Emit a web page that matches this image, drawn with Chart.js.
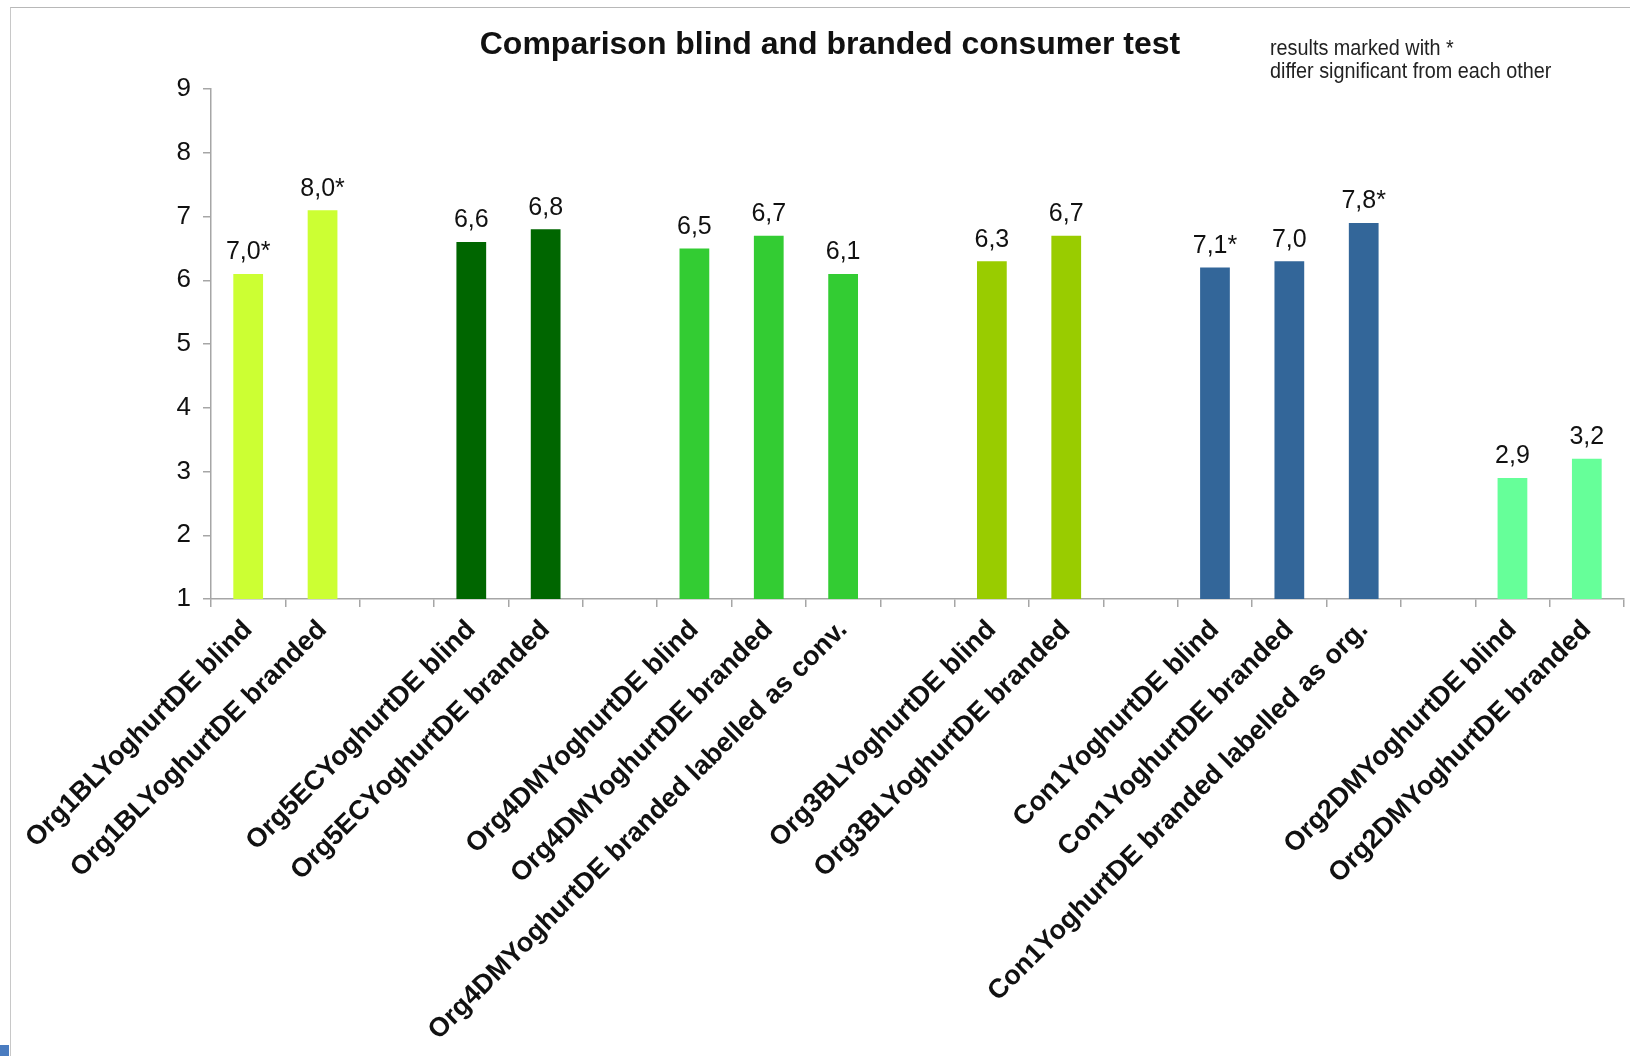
<!DOCTYPE html>
<html>
<head>
<meta charset="utf-8">
<script src="https://cdn.jsdelivr.net/npm/chart.js@4/dist/chart.umd.min.js"></script>
<style>
  html, body { margin: 0; padding: 0; background: #fff; }
  #wrap { position: relative; width: 1630px; height: 1056px; overflow: hidden; }
  #frame { position: absolute; left: 10px; top: 7px; right: -2px; bottom: -2px; border-top: 1px solid #b8b8b8; border-left: 1px solid #c8c8c8; }
  #corner { position: absolute; left: 0; top: 1045px; width: 9px; height: 11px; background: #4a7cc0; }
  canvas { position: absolute; left: 0; top: 0; }
</style>
</head>
<body>
<div id="wrap">
  <div id="frame"></div>
  <div id="corner"></div>
  <canvas id="chart" width="1630" height="1056"></canvas>
</div>
<script>
const titleText = 'Comparison blind and branded consumer test';
const noteLines = ['results marked with *', 'differ significant from each other'];

// empty strings are the gaps between product groups
const categories = [
    'Org1BLYoghurtDE blind', 'Org1BLYoghurtDE branded', '',
    'Org5ECYoghurtDE blind', 'Org5ECYoghurtDE branded', '',
    'Org4DMYoghurtDE blind', 'Org4DMYoghurtDE branded', 'Org4DMYoghurtDE branded labelled as conv.', '',
    'Org3BLYoghurtDE blind', 'Org3BLYoghurtDE branded', '',
    'Con1YoghurtDE blind', 'Con1YoghurtDE branded', 'Con1YoghurtDE branded labelled as org.', '',
    'Org2DMYoghurtDE blind', 'Org2DMYoghurtDE branded'
];
const barValues = [6.1, 7.1, null, 6.6, 6.8, null, 6.5, 6.7, 6.1, null, 6.3, 6.7, null, 6.2, 6.3, 6.9, null, 2.9, 3.2];
const valueLabels = ['7,0*', '8,0*', '', '6,6', '6,8', '', '6,5', '6,7', '6,1', '', '6,3', '6,7', '', '7,1*', '7,0', '7,8*', '', '2,9', '3,2'];
const barColors = [
    '#ccff33', '#ccff33', null,
    '#006600', '#006600', null,
    '#33cc33', '#33cc33', '#33cc33', null,
    '#99cc00', '#99cc00', null,
    '#336699', '#336699', '#336699', null,
    '#66ff99', '#66ff99'
];
const yMin = 1, yMax = 9, yStep = 1;

const FONT = '"Liberation Sans", Arial, sans-serif';
const axisColor = '#a6a6a6';

const textPlugin = {
    id: 'textPlugin',
    afterDatasetsDraw(chart) {
        const ctx = chart.ctx;
        const meta = chart.getDatasetMeta(0);
        ctx.save();
        ctx.fillStyle = '#111';
        ctx.textAlign = 'center';
        ctx.textBaseline = 'bottom';
        ctx.font = `25px ${FONT}`;
        meta.data.forEach((bar, i) => {
            if (!valueLabels[i]) return;
            ctx.fillText(valueLabels[i], bar.x, bar.y - 9);
        });

        ctx.font = `bold 32px ${FONT}`;
        ctx.textBaseline = 'middle';
        ctx.fillText(titleText, 830, 45);

        ctx.font = `22px ${FONT}`;
        ctx.textAlign = 'left';
        ctx.fillStyle = '#222';
        noteLines.forEach((line, i) => {
            ctx.save();
            ctx.translate(1270, 49 + i * 23);
            ctx.scale(0.9, 1);
            ctx.fillText(line, 0, 0);
            ctx.restore();
        });
        ctx.restore();
    }
};

new Chart(document.getElementById('chart'), {
    type: 'bar',
    data: {
        labels: categories,
        datasets: [{
            data: barValues,
            backgroundColor: barColors,
            borderWidth: 0,
            barPercentage: 0.4,
            categoryPercentage: 1.0
        }]
    },
    options: {
        responsive: false,
        animation: false,
        events: [],
        layout: { padding: { top: 89, right: 6, bottom: 0, left: 0 } },
        plugins: {
            legend: { display: false },
            tooltip: { enabled: false }
        },
        scales: {
            x: {
                afterFit: s => { s.height = 457; },
                grid: { display: true, drawOnChartArea: false, drawTicks: true, tickLength: 8, color: axisColor, lineWidth: 1.5 },
                border: { display: true, color: axisColor, width: 1.5 },
                ticks: {
                    color: '#111',
                    font: { family: FONT, size: 27, weight: 'bold' },
                    maxRotation: 45,
                    minRotation: 45,
                    autoSkip: false,
                    padding: 7
                }
            },
            y: {
                min: yMin,
                max: yMax,
                afterFit: s => { s.width = 211; },
                grid: { display: true, drawOnChartArea: false, drawTicks: true, tickLength: 8, color: axisColor, lineWidth: 1.5 },
                border: { display: true, color: axisColor, width: 1.5 },
                ticks: {
                    stepSize: yStep,
                    color: '#111',
                    font: { family: FONT, size: 26 },
                    padding: 12
                }
            }
        }
    },
    plugins: [textPlugin]
});
</script>
</body>
</html>
